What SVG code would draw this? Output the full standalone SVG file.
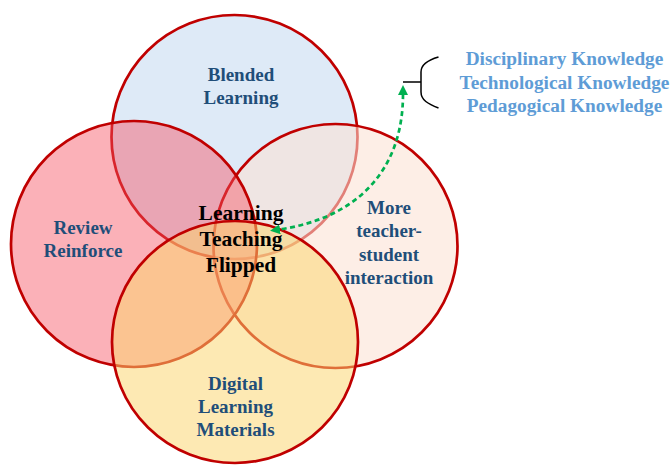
<svg xmlns="http://www.w3.org/2000/svg" width="671" height="465" viewBox="0 0 671 465">
<style>
  .circ { stroke: #c00000; stroke-width: 2.7; }
  .lbl { font-family: "Liberation Serif", "Times New Roman", serif; font-weight: bold; font-size: 19px; fill: #1f4e79; text-anchor: middle; }
  .ctr { font-family: "Liberation Serif", "Times New Roman", serif; font-weight: bold; font-size: 21.5px; fill: #000000; text-anchor: middle; }
  .kn { font-family: "Liberation Serif", "Times New Roman", serif; font-weight: bold; font-size: 19.3px; fill: #5e9cd6; text-anchor: middle; }
  .conn { fill: none; stroke: #00b050; stroke-width: 2.7; stroke-dasharray: 5 3.5; }
</style>
<defs>
  <marker id="ah" viewBox="0 0 10 10" refX="1" refY="5" markerWidth="10" markerHeight="10" markerUnits="userSpaceOnUse" orient="auto-start-reverse">
    <path d="M0,0 L10,5 L0,10 z" fill="#00b050"/>
  </marker>
</defs>
<rect width="671" height="465" fill="#ffffff"/>
<g id="blended">
  <ellipse class="circ" cx="234.5" cy="137" rx="123" ry="122" fill="#deeaf7"/>
  <text class="lbl" x="241" y="81">Blended</text>
  <text class="lbl" x="241" y="104">Learning</text>
</g>
<g id="interaction">
  <ellipse class="circ" cx="335.5" cy="246" rx="122" ry="122" fill="#fbe1d3" fill-opacity="0.57"/>
  <text class="lbl" x="389" y="213.5">More</text>
  <text class="lbl" x="389" y="237">teacher-</text>
  <text class="lbl" x="389" y="260.5">student</text>
  <text class="lbl" x="389" y="284">interaction</text>
</g>
<g id="review">
  <ellipse class="circ" cx="134" cy="244" rx="123" ry="123" fill="#f65262" fill-opacity="0.45"/>
  <text class="lbl" x="83" y="234">Review</text>
  <text class="lbl" x="83" y="257">Reinforce</text>
</g>
<g id="digital">
  <ellipse class="circ" cx="235" cy="342" rx="123" ry="121" fill="#fbd56d" fill-opacity="0.52"/>
  <text class="lbl" x="235.5" y="390">Digital</text>
  <text class="lbl" x="235.5" y="413">Learning</text>
  <text class="lbl" x="235.5" y="436">Materials</text>
</g>
<g id="center">
  <text class="ctr" x="241" y="220">Learning</text>
  <text class="ctr" x="241" y="246">Teaching</text>
  <text class="ctr" x="241" y="271.5">Flipped</text>
</g>
<g id="knowledge">
  <path d="M438.5,57 C428,60 421,64 421,72 L421,92 C421,100 428,104 438.5,108 M403,82 L421,82" fill="none" stroke="#000000" stroke-width="1.5"/>
  <text class="kn" x="564.5" y="65">Disciplinary Knowledge</text>
  <text class="kn" x="564.5" y="88.5">Technological Knowledge</text>
  <text class="kn" x="564.5" y="112">Pedagogical Knowledge</text>
</g>
<g id="connectors">
  <path class="conn" d="M403,94 C403,175 352,219 279,229.5" marker-start="url(#ah)" marker-end="url(#ah)"/>
</g>
</svg>
